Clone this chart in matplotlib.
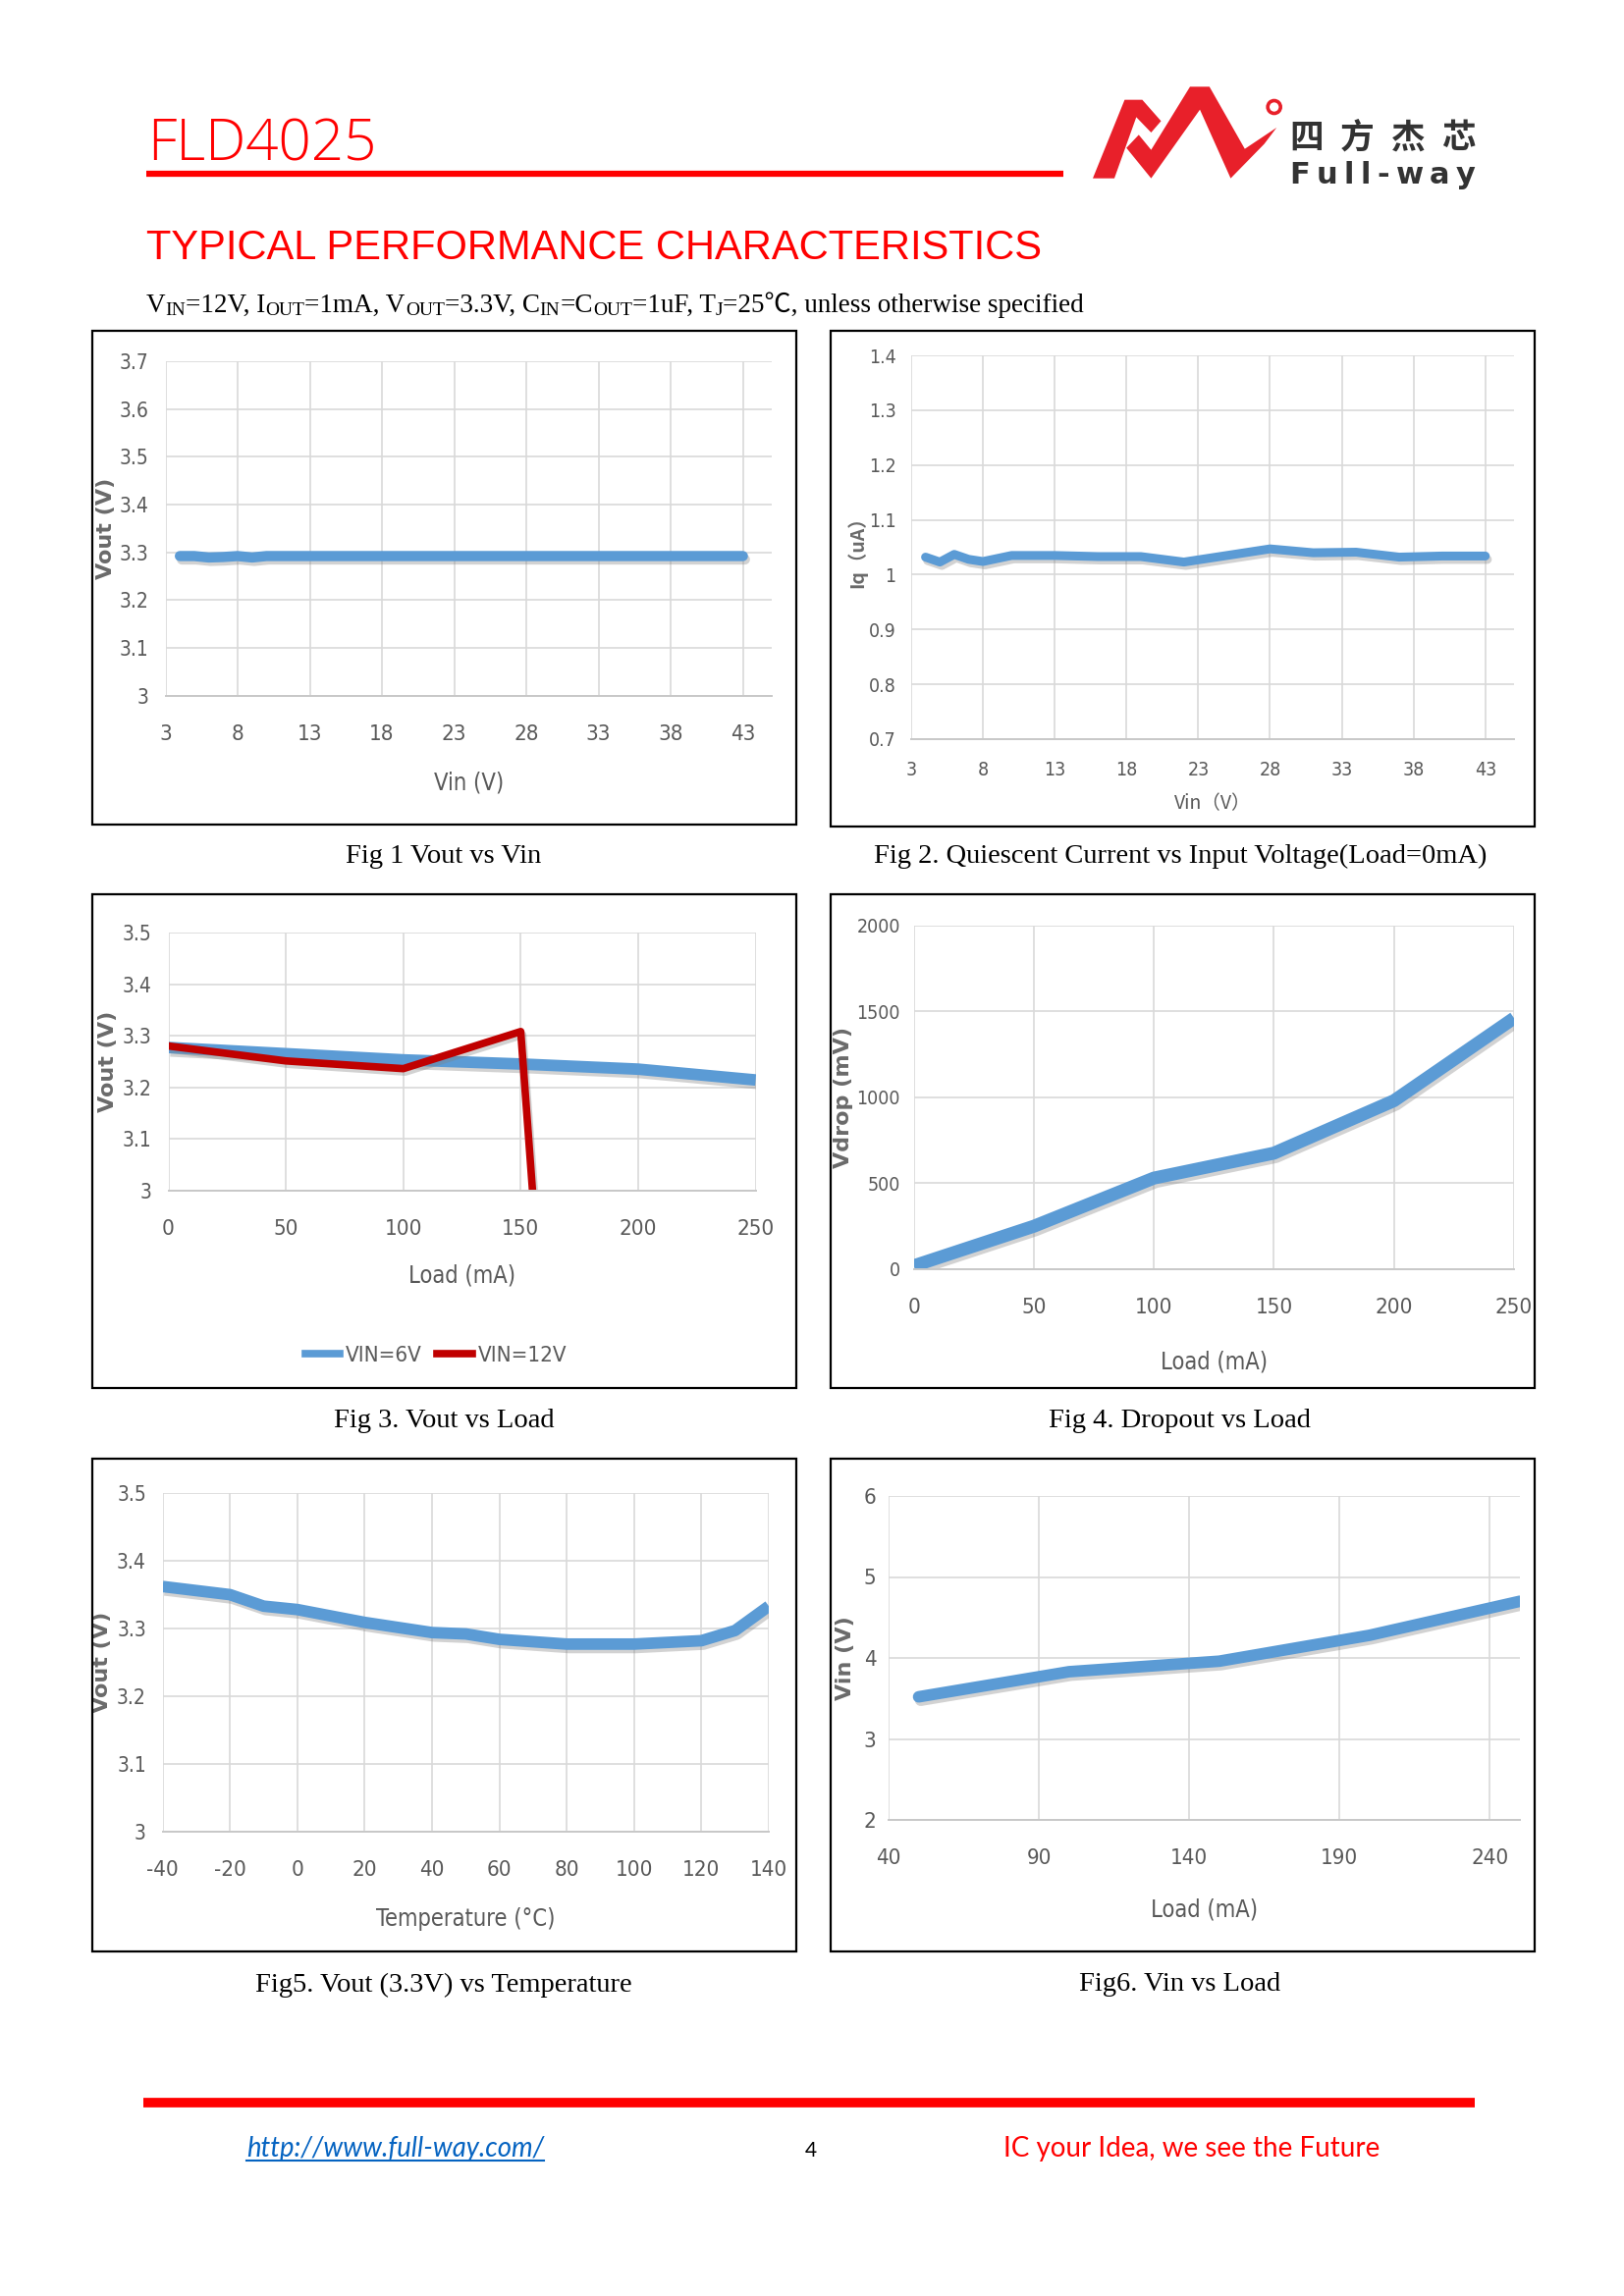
import matplotlib
matplotlib.use("Agg")
import matplotlib.pyplot as plt
from matplotlib import font_manager as fm
from matplotlib.font_manager import FontProperties
from matplotlib.patches import Rectangle, Polygon, Ellipse
from matplotlib.lines import Line2D
import matplotlib.patheffects as pe

plt.rcParams["axes.unicode_minus"] = False

# ---------------- data ----------------
fig1_vin = [4, 5, 6, 7, 8, 9, 10, 13, 18, 23, 28, 33, 38, 43]
fig1_vout = [3.292, 3.292, 3.289, 3.290, 3.292, 3.289, 3.292, 3.292, 3.292, 3.292, 3.292, 3.292, 3.292, 3.292]

fig2_vin = [4, 5, 6, 7, 8, 10, 13, 16, 19, 22, 25, 28, 31, 34, 37, 40, 43]
fig2_iq = [1.032, 1.023, 1.037, 1.028, 1.024, 1.035, 1.035, 1.033, 1.033, 1.023, 1.035, 1.047, 1.040, 1.041, 1.032, 1.034, 1.034]

fig3_load_6v = [0, 50, 100, 150, 200, 250]
fig3_vout_6v = [3.277, 3.265, 3.253, 3.245, 3.235, 3.214]
fig3_load_12v = [0, 50, 100, 150, 155]
fig3_vout_12v = [3.280, 3.251, 3.236, 3.308, 3.000]
fig3_legend = ["VIN=6V", "VIN=12V"]

fig4_load = [0, 50, 100, 150, 200, 250]
fig4_vdrop = [20, 250, 530, 675, 980, 1460]

fig5_temp = [-40, -20, -10, 0, 20, 40, 50, 60, 80, 100, 120, 130, 140]
fig5_vout = [3.362, 3.350, 3.333, 3.328, 3.309, 3.294, 3.292, 3.284, 3.277, 3.277, 3.282, 3.297, 3.333]

fig6_load = [50, 100, 150, 200, 250]
fig6_vin = [3.52, 3.83, 3.96, 4.28, 4.70]

fig1_xticks = [3, 8, 13, 18, 23, 28, 33, 38, 43]
fig1_yticks = [3, 3.1, 3.2, 3.3, 3.4, 3.5, 3.6, 3.7]
fig2_yticks = [0.7, 0.8, 0.9, 1.0, 1.1, 1.2, 1.3, 1.4]
fig3_xticks = [0, 50, 100, 150, 200, 250]
fig3_yticks = [3, 3.1, 3.2, 3.3, 3.4, 3.5]
fig4_yticks = [0, 500, 1000, 1500, 2000]
fig5_xticks = [-40, -20, 0, 20, 40, 60, 80, 100, 120, 140]
fig6_xticks = [40, 90, 140, 190, 240]
fig6_yticks = [2, 3, 4, 5, 6]

captions = ["Fig 1 Vout vs Vin",
            "Fig 2. Quiescent Current vs Input Voltage(Load=0mA)",
            "Fig 3. Vout vs Load",
            "Fig 4. Dropout vs Load",
            "Fig5. Vout (3.3V) vs Temperature",
            "Fig6. Vin vs Load"]

# ---------------- setup ----------------
W, H = 1654, 2339
fig = plt.figure(figsize=(W / 100, H / 100), dpi=100)
fig.patch.set_facecolor("white")
renderer = fig.canvas.get_renderer()

names = {f.name for f in fm.fontManager.ttflist}
if "Liberation Sans Narrow" in names:
    COND = dict(family="Liberation Sans Narrow")
else:
    COND = dict(family="DejaVu Sans", stretch="condensed")

BLUE = "#5B9BD5"
DRED = "#C00000"
GRAY = "#595959"
GRID = "#D9D9D9"
RED = "#FF0000"


def fx(x):
    return x / W


def fy(y):
    return 1 - y / H


def cond_fp(size):
    return FontProperties(size=size, **COND)


shadow = [pe.SimpleLineShadow(offset=(1.5, -2.5), shadow_color="#7f7f7f", alpha=0.35), pe.Normal()]


def make_axes(box, xlim, ylim, xticks, yticks, xtsize, ytsize, xpad, ypad,
              xlabel, ylabel, xl_y, yl_x, xl_size=17, yl_size=16,
              xl_fp=None, yl_fp=None, yfmt=None):
    x0, y0, x1, y1 = box
    ax = fig.add_axes([fx(x0), fy(y1), (x1 - x0) / W, (y1 - y0) / H])
    ax.set_xlim(*xlim)
    ax.set_ylim(*ylim)
    ax.set_xticks(xticks)
    ax.set_yticks(yticks)
    if yfmt:
        ax.set_yticklabels([yfmt(v) for v in yticks])
    ax.grid(True, color=GRID, lw=1.2)
    ax.set_axisbelow(True)
    for s in ["top", "right", "left"]:
        ax.spines[s].set_visible(False)
    ax.spines["bottom"].set_color("#C8C8C8")
    ax.spines["bottom"].set_linewidth(1.4)
    ax.tick_params(length=0, labelcolor=GRAY)
    ax.tick_params(axis="x", pad=xpad)
    ax.tick_params(axis="y", pad=ypad)
    for lb in ax.get_xticklabels():
        lb.set_fontproperties(cond_fp(xtsize))
    for lb in ax.get_yticklabels():
        lb.set_fontproperties(cond_fp(ytsize))
    ax.set_xlabel(xlabel, fontproperties=xl_fp if xl_fp is not None else cond_fp(xl_size), color=GRAY)
    ax.set_ylabel(ylabel, fontproperties=yl_fp if yl_fp is not None else
                  FontProperties(family="DejaVu Sans", weight="bold", size=yl_size), color="#6A6A6A")
    ax.xaxis.set_label_coords(0.5, (y1 - xl_y) / (y1 - y0))
    ax.xaxis.label.set_va("center")
    ax.yaxis.set_label_coords((yl_x - x0) / (x1 - x0), 0.5)
    ax.yaxis.label.set_va("center")
    ax.yaxis.label.set_ha("center")
    ax.patch.set_alpha(0)
    return ax


def fmt_g(v):
    return ("%g" % v)


# panel boxes
boxes = [(94, 337, 811, 840), (846, 337, 1563, 842),
         (94, 911, 811, 1414), (846, 911, 1563, 1414),
         (94, 1486, 811, 1988), (846, 1486, 1563, 1988)]
for (x0, y0, x1, y1) in boxes:
    fig.patches.append(Rectangle((fx(x0), fy(y1)), (x1 - x0) / W, (y1 - y0) / H,
                                 transform=fig.transFigure, fill=False, ec="black", lw=1.6))

# ---- Fig 1
ax1 = make_axes((168.5, 368, 786, 708.5), (3, 45), (3, 3.7), fig1_xticks, fig1_yticks, 16, 15, 21, 12,
                "Vin (V)", "Vout (V)", 798, 108, yfmt=fmt_g)
ax1.plot(fig1_vin, fig1_vout, color=BLUE, lw=7.5, solid_capstyle="round", path_effects=shadow)

# ---- Fig 2
cjk = ["Noto Sans CJK SC", "DejaVu Sans"]
ax2 = make_axes((928, 362, 1542, 753), (3, 45), (0.7, 1.4), fig1_xticks, fig2_yticks, 14, 14, 16, 11,
                "Vin（V）", "Iq（uA）", 819, 873,
                xl_fp=FontProperties(family=cjk, size=14),
                yl_fp=FontProperties(family=cjk, size=14, weight="bold"), yfmt=fmt_g)
ax2.plot(fig2_vin, fig2_iq, color=BLUE, lw=6.5, solid_capstyle="round", path_effects=shadow)

# ---- Fig 3
ax3 = make_axes((171.5, 950, 769.6, 1212.6), (0, 250), (3, 3.5), fig3_xticks, fig3_yticks, 16, 15, 21, 12,
                "Load (mA)", "Vout (V)", 1300, 110, yfmt=fmt_g)
ax3.plot(fig3_load_6v, fig3_vout_6v, color=BLUE, lw=8.5, solid_capstyle="butt", path_effects=shadow)
ax3.plot(fig3_load_12v, fig3_vout_12v, color=DRED, lw=5.5, solid_capstyle="butt", path_effects=shadow)
h1 = Line2D([], [], color=BLUE, lw=5.5)
h2 = Line2D([], [], color=DRED, lw=5.5)
ax3.legend([h1, h2], fig3_legend, loc="center", bbox_to_anchor=(fx(444), fy(1381)),
           bbox_transform=fig.transFigure, ncol=2, frameon=False, handlelength=1.6,
           handletextpad=0.25, columnspacing=0.7, prop=cond_fp(16), labelcolor=GRAY)

# ---- Fig 4
ax4 = make_axes((930.7, 942.6, 1542, 1293), (0, 250), (0, 2000), fig3_xticks, fig4_yticks, 16, 14, 21, 10,
                "Load (mA)", "Vdrop (mV)", 1387, 859)
ax4.plot(fig4_load, fig4_vdrop, color=BLUE, lw=9.5, solid_capstyle="butt", path_effects=shadow)

# ---- Fig 5
ax5 = make_axes((165.6, 1521, 783, 1866), (-40, 140), (3, 3.5), fig5_xticks, fig3_yticks, 16, 15, 21, 12,
                "Temperature (°C)", "Vout (V)", 1955, 104, yfmt=fmt_g)
ax5.plot(fig5_temp, fig5_vout, color=BLUE, lw=8.5, solid_capstyle="butt", path_effects=shadow)

# ---- Fig 6
ax6 = make_axes((905, 1524, 1548, 1854), (40, 250), (2, 6), fig6_xticks, fig6_yticks, 16, 16, 21, 9,
                "Load (mA)", "Vin (V)", 1945, 861)
ax6.plot(fig6_load, fig6_vin, color=BLUE, lw=8.5, solid_capstyle="round", path_effects=shadow)

# captions
cap_pos = [(452, 872), (1202, 872), (452, 1447), (1202, 1447), (452, 2022), (1202, 2022)]
for (cx, cy), c in zip(cap_pos, captions):
    fig.text(fx(cx), fy(cy), c, ha="center", va="center", family="Liberation Serif", fontsize=20.5, color="black")

# ---------------- header ----------------
fig.text(fx(150), fy(163), "FLD4025", family=["Open Sans", "DejaVu Sans"], weight="light",
         fontsize=42, color=RED, va="baseline", ha="left")
fig.lines.append(Line2D([fx(149), fx(1083)], [fy(177), fy(177)], transform=fig.transFigure,
                        color=RED, lw=4.5, solid_capstyle="butt"))
fig.text(fx(149), fy(264), "TYPICAL PERFORMANCE CHARACTERISTICS", family="Liberation Sans",
         fontsize=30, color=RED, va="baseline", ha="left")

# conditions line with subscripts
segs = [("V", 0), ("IN", 1), ("=12V, I", 0), ("OUT", 1), ("=1mA, V", 0), ("OUT", 1),
        ("=3.3V, C", 0), ("IN", 1), ("=C", 0), ("OUT", 1), ("=1uF, T", 0), ("J", 1),
        ("=25℃, unless otherwise specified", 0)]
cur = 149.0
for s, sub in segs:
    size = 14 if sub else 19.5
    yb = 318 + (3 if sub else 0)
    t = fig.text(fx(cur), fy(yb), s, family=["Liberation Serif", "Noto Sans CJK SC"], fontsize=size,
                 color="black", va="baseline", ha="left")
    cur += t.get_window_extent(renderer=renderer).width


# logo (shape, in local logo units)
def lp(zx, zy):
    return (fx(1086 + 0.36 * zx), fy(80 + zy / 3))

LOGO_RED = "#E8202A"
polyA = [(75, 305), (165, 65), (215, 65), (268, 130), (240, 165), (198, 118), (136, 305)]
polyB = [(170, 212), (205, 172), (240, 218), (350, 25), (405, 25), (505, 215), (595, 150),
         (560, 200), (465, 305), (378, 95), (240, 305)]
for poly in (polyA, polyB):
    fig.patches.append(Polygon([lp(*p) for p in poly], closed=True, transform=fig.transFigure,
                               fc=LOGO_RED, ec="none"))
cxy = lp(588, 87)
fig.patches.append(Ellipse(cxy, width=13 / W, height=13 / H, transform=fig.transFigure,
                           fill=False, ec=LOGO_RED, lw=2.6))


def tracked(text, x0, x1, ybase, **kw):
    """Draw text char by char, spread so that it spans x0..x1 (pixels)."""
    ts = []
    widths = []
    for ch in text:
        t = fig.text(0, fy(ybase), ch, va="baseline", ha="left", **kw)
        ts.append(t)
        widths.append(t.get_window_extent(renderer=renderer).width)
    extra = (x1 - x0 - sum(widths)) / max(len(text) - 1, 1)
    cur = x0
    for t, w in zip(ts, widths):
        t.set_x(fx(cur))
        cur += w + extra


tracked("四方杰芯", 1313, 1503, 151, family=["Noto Sans CJK SC"], fontsize=25, weight="bold", color="#333333")
tracked("Full-way", 1313, 1503, 187, family="DejaVu Sans", fontsize=22, weight="bold", color="#333333")

# ---------------- footer ----------------
fig.lines.append(Line2D([fx(146), fx(1502)], [fy(2142), fy(2142)], transform=fig.transFigure,
                        color=RED, lw=7, solid_capstyle="butt"))
url = fig.text(fx(251), fy(2197), "http://www.full-way.com/", family=["Lato", "DejaVu Sans"],
               style="italic", fontsize=19.8, color="#0563C1", va="baseline", ha="left")
ub = url.get_window_extent(renderer=renderer)
fig.lines.append(Line2D([ub.x0 / W, ub.x1 / W], [fy(2201), fy(2201)], transform=fig.transFigure,
                        color="#0563C1", lw=1.5))
fig.text(fx(826), fy(2197), "4", family=["Lato", "DejaVu Sans"], fontsize=15, color="black",
         va="baseline", ha="center")
fig.text(fx(1022), fy(2197), "IC your Idea, we see the Future", family=["Lato", "DejaVu Sans"],
         fontsize=20, color=RED, va="baseline", ha="left")

fig.savefig("out.png", dpi=100, facecolor="white")
